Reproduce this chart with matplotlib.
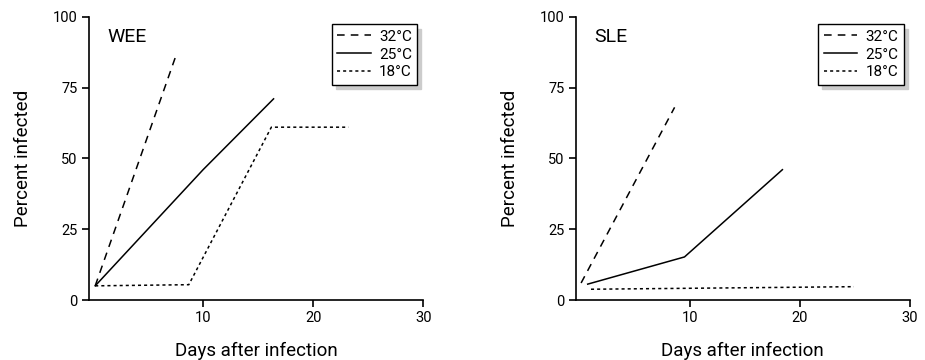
import matplotlib
matplotlib.use("Agg")
import matplotlib.pyplot as plt

plt.rcParams['font.family'] = ['Roboto', 'DejaVu Sans']

labels = ["32°C", "25°C", "18°C"]
styles = [(0, (5, 4)), "-", (0, (2, 2))]

# WEE panel
wee_x = [
    [0.2, 7.6],
    [0.2, 10.0, 16.4],
    [0.2, 8.7, 16.2, 23.2],
]
wee_y = [
    [5, 87],
    [5, 46, 71],
    [5, 5.4, 61, 61],
]

# SLE panel
sle_x = [
    [0.1, 8.6],
    [0.7, 9.5, 18.4],
    [1.0, 24.9],
]
sle_y = [
    [6, 68],
    [5.6, 15.2, 46],
    [3.8, 4.7],
]

xticks = [10, 20, 30]
yticks = [0, 25, 50, 75, 100]

fig = plt.figure(figsize=(9.25, 3.6), dpi=100)
W, H = 925, 360

def make_ax(left_px, right_px, title, xs, ys):
    bottom_px, top_px = 300, 16.7
    ax = fig.add_axes([left_px / W, 1 - bottom_px / H,
                       (right_px - left_px) / W, (bottom_px - top_px) / H])
    for x, y, ls, lab in zip(xs, ys, styles, labels):
        ax.plot(x, y, color='black', lw=1.1, linestyle=ls, label=lab)
    ax.set_xlim(-0.4, 30)
    ax.set_ylim(0, 100)
    ax.set_xticks(xticks)
    ax.set_yticks(yticks)
    ax.spines['top'].set_visible(False)
    ax.spines['right'].set_visible(False)
    ax.spines['left'].set_linewidth(1.2)
    ax.spines['bottom'].set_linewidth(1.2)
    ax.tick_params(axis='both', direction='out', length=5, width=1.2,
                   labelsize=10.5, pad=3)
    ax.set_xlabel("Days after infection", fontsize=13.5, labelpad=12)
    ax.set_ylabel("Percent infected", fontsize=13.5, labelpad=15)
    ax.text(0.055, 0.93, title, transform=ax.transAxes, fontsize=14,
            ha='left', va='center')
    leg = ax.legend(loc='upper right', bbox_to_anchor=(0.982, 0.973),
                    fontsize=11, frameon=True, fancybox=False,
                    handlelength=2.2, handletextpad=0.55, labelspacing=0.25,
                    borderpad=0.35, borderaxespad=0,
                    shadow={'ox': 3, 'oy': -3, 'color': '#cccccc', 'alpha': 1})
    leg.get_frame().set_edgecolor('black')
    leg.get_frame().set_linewidth(1.0)
    return ax

make_ax(88.6, 423.3, "WEE", wee_x, wee_y)
make_ax(575.6, 910, "SLE", sle_x, sle_y)

fig.savefig("out.png", dpi=100)
